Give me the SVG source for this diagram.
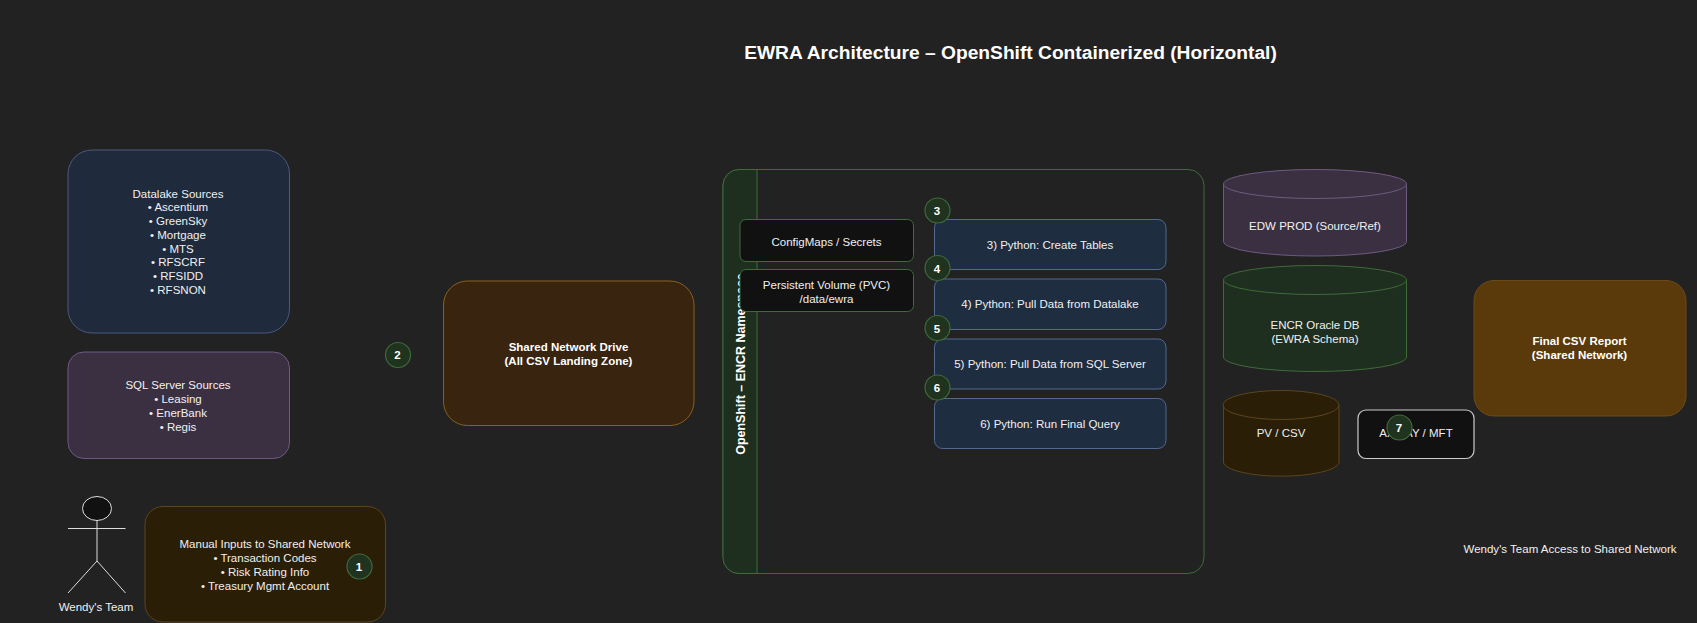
<svg xmlns="http://www.w3.org/2000/svg" width="1697" height="623" viewBox="0 0 1697 623">
<style>
text{font-family:"Liberation Sans",Arial,sans-serif;font-size:11.520px;fill:#f0f0f0;text-anchor:middle}
.b{font-weight:700;fill:#fff}
.title{font-size:19.200px;font-weight:700;fill:#fff}
.n{font-size:11.520px;font-weight:700;fill:#fff}
.badge{fill:#1f331f;stroke:#3f6a3a;stroke-width:1.2}
.step{fill:#1f2d40;stroke:#51688f;stroke-width:1}
.dark{fill:#111;stroke:#3f6a3a;stroke-width:1}
.actor{fill:none;stroke:#ddd;stroke-width:1}
</style>
<rect width="1697" height="623" fill="#222"/>
<text class="title" x="1010.500" y="59">EWRA Architecture – OpenShift Containerized (Horizontal)</text>
<g id="datalake"><rect x="68" y="150" width="221.500" height="183" rx="24" fill="#1f2a3d" stroke="#4a5a80"/>
<text x="178" y="197.500">Datalake Sources</text><text x="178" y="210.500">• Ascentium</text><text x="178" y="225">• GreenSky</text><text x="178" y="238.500">• Mortgage</text><text x="178" y="253">• MTS</text><text x="178" y="266">• RFSCRF</text><text x="178" y="280">• RFSIDD</text><text x="178" y="294">• RFSNON</text></g>
<g id="sqlserver"><rect x="68" y="352" width="221.500" height="106.500" rx="16" fill="#3b3042" stroke="#6e5a80"/>
<text x="178" y="388.500">SQL Server Sources</text><text x="178" y="402.500">• Leasing</text><text x="178" y="416.500">• EnerBank</text><text x="178" y="430.500">• Regis</text></g>
<g id="actor"><ellipse cx="97" cy="508.500" rx="14.500" ry="12" fill="#111" stroke="#ddd"/>
<path class="actor" d="M97 520.500V561M68 528.500H125.500M97 561L68 593M97 561L125.500 593"/>
<text x="96" y="611">Wendy's Team</text></g>
<g id="manual"><rect x="145" y="506.500" width="240.500" height="115.500" rx="18" fill="#2a1e06" stroke="#5a4520"/>
<text x="265" y="547.500">Manual Inputs to Shared Network</text><text x="265" y="561.500">• Transaction Codes</text><text x="265" y="575.500">• Risk Rating Info</text><text x="265" y="589.500">• Treasury Mgmt Account</text></g>
<g id="shared"><rect x="443.500" y="281" width="250.500" height="144.500" rx="24" fill="#38240f" stroke="#8a6020"/>
<text class="b" x="568.500" y="350.500">Shared Network Drive</text><text class="b" x="568.500" y="364.500">(All CSV Landing Zone)</text></g>
<g id="openshift"><rect x="723" y="169.500" width="481" height="404" rx="16" fill="none" stroke="#3f6a3a"/>
<path d="M757 169.500H739a16 16 0 0 0-16 16V557.500a16 16 0 0 0 16 16H757Z" fill="#1f2f1f" stroke="#3f6a3a"/>
<text class="b" transform="translate(745 364) rotate(-90)" x="0" y="0" style="font-size:12.480px">OpenShift – ENCR Namespace</text></g>
<g id="configmaps"><rect class="dark" x="740" y="219.500" width="173.500" height="42" rx="6"/><text x="826.500" y="245.500">ConfigMaps / Secrets</text></g>
<g id="pvc"><rect class="dark" x="740" y="269.500" width="173.500" height="42" rx="6"/><text x="826.500" y="288.500">Persistent Volume (PVC)</text><text x="826.500" y="302.500">/data/ewra</text></g>
<g id="step3"><rect class="step" x="934.500" y="219.500" width="231.500" height="50" rx="8"/><text x="1050" y="248.500">3) Python: Create Tables</text></g>
<g id="step4"><rect class="step" x="934.500" y="279" width="231.500" height="50.500" rx="8"/><text x="1050" y="307.500">4) Python: Pull Data from Datalake</text></g>
<g id="step5"><rect class="step" x="934.500" y="339" width="231.500" height="50" rx="8"/><text x="1050" y="367.500">5) Python: Pull Data from SQL Server</text></g>
<g id="step6"><rect class="step" x="934.500" y="398.500" width="231.500" height="50" rx="8"/><text x="1050" y="427.500">6) Python: Run Final Query</text></g>
<g id="edw"><path d="M1223.500 184V241.500A91.500 14.500 0 0 0 1406.500 241.500V184Z" fill="#3b3042" stroke="#6e5a80"/><ellipse cx="1315" cy="184" rx="91.500" ry="14.500" fill="#3b3042" stroke="#6e5a80"/><text x="1315" y="229.500">EDW PROD (Source/Ref)</text></g>
<g id="oracle"><path d="M1223.500 280V357A91.500 14.500 0 0 0 1406.500 357V280Z" fill="#1f2f1f" stroke="#3f6a3a"/><ellipse cx="1315" cy="280" rx="91.500" ry="14.500" fill="#1f2f1f" stroke="#3f6a3a"/><text x="1315" y="328.500">ENCR Oracle DB</text><text x="1315" y="342.500">(EWRA Schema)</text></g>
<g id="pvcsv"><path d="M1223.500 405V463A58 14.500 0 0 0 1339 463V405Z" fill="#2a1e06" stroke="#5a4520"/><ellipse cx="1281" cy="405" rx="58" ry="14.500" fill="#2a1e06" stroke="#5a4520"/><text x="1281" y="437">PV / CSV</text></g>
<g id="axway"><rect x="1358" y="410" width="116" height="48.500" rx="8" fill="#111" stroke="#ccc" stroke-width="1.200"/><text x="1416" y="437">AXWAY / MFT</text></g>
<g id="final"><rect x="1474" y="280.500" width="212" height="135.500" rx="20" fill="#5a3a0a" stroke="#6b4a1a"/><text class="b" x="1579.500" y="345">Final CSV Report</text><text class="b" x="1579.500" y="359">(Shared Network)</text></g>
<g id="access"><text x="1570" y="552.500">Wendy's Team Access to Shared Network</text></g>
<g id="connectors"></g>
<g id="badge1"><circle class="badge" cx="359.500" cy="566.500" r="12.500"/><text class="n" x="359" y="570.500">1</text></g>
<g id="badge2"><circle class="badge" cx="398" cy="355" r="12.500"/><text class="n" x="397.500" y="359">2</text></g>
<g id="badge3"><circle class="badge" cx="937.500" cy="210.500" r="12.500"/><text class="n" x="937" y="214.500">3</text></g>
<g id="badge4"><circle class="badge" cx="937.500" cy="268" r="12.500"/><text class="n" x="937" y="272.500">4</text></g>
<g id="badge5"><circle class="badge" cx="937.500" cy="328" r="12.500"/><text class="n" x="937" y="332.500">5</text></g>
<g id="badge6"><circle class="badge" cx="937.500" cy="387.500" r="12.500"/><text class="n" x="937" y="391.500">6</text></g>
<g id="badge7"><circle class="badge" cx="1399.500" cy="427.500" r="12.500"/><text class="n" x="1399" y="431.500">7</text></g>
</svg>
